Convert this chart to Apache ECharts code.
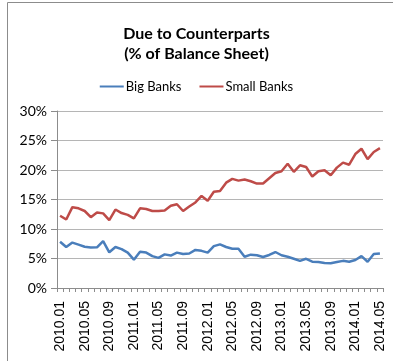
<!DOCTYPE html>
<html>
<head>
<meta charset="utf-8">
<script src="https://cdn.jsdelivr.net/npm/echarts@6/dist/echarts.min.js"></script>
<style>
html, body { margin: 0; padding: 0; background: #fff; }
#chart { width: 393px; height: 361px; }
</style>
</head>
<body>
<div id="chart"></div>
<script>
// Monthly observations, 2010.01 – 2014.05
const months = [];
for (let y = 2010; y <= 2014; y++) {
  for (let m = 1; m <= 12; m++) {
    if (y === 2014 && m > 5) break;
    months.push(y + '.' + (m < 10 ? '0' + m : m));
  }
}

// Due to counterparts, % of balance sheet
const bigBanks = [
  7.85, 6.95, 7.7, 7.35, 7.0, 6.85, 6.9, 7.95, 6.05, 6.95, 6.6, 6.0,
  4.8, 6.15, 6.0, 5.4, 5.1, 5.7, 5.5, 6.0, 5.75, 5.85, 6.45, 6.3,
  6.0, 7.1, 7.4, 6.95, 6.65, 6.65, 5.3, 5.65, 5.55, 5.25, 5.6, 6.1,
  5.55, 5.3, 4.95, 4.6, 4.95, 4.45, 4.4, 4.25, 4.2, 4.4, 4.6, 4.45,
  4.75, 5.4, 4.45, 5.75, 5.85
];
const smallBanks = [
  12.25, 11.6, 13.7, 13.5, 13.05, 12.0, 12.8, 12.65, 11.5, 13.3, 12.7, 12.4,
  11.8, 13.5, 13.4, 13.05, 13.05, 13.15, 13.95, 14.2, 13.05, 13.8, 14.5, 15.6,
  14.8, 16.3, 16.45, 17.85, 18.5, 18.2, 18.4, 18.1, 17.7, 17.7, 18.6, 19.5,
  19.8, 21.05, 19.7, 20.8, 20.5, 18.9, 19.8, 19.95, 19.1, 20.4, 21.25, 20.9,
  22.7, 23.6, 21.85, 23.05, 23.7
];

const yTicks = [0, 5, 10, 15, 20, 25, 30];

const chart = echarts.init(document.getElementById('chart'), null, { renderer: 'canvas' });

chart.setOption({
  animation: false,
  backgroundColor: '#ffffff',
  title: {
    text: 'Due to Counterparts\n(% of Balance Sheet)',
    left: 'center',
    top: 19,
    padding: [5, 5, 5, 17],
    textStyle: {
      fontFamily: 'Lato',
      fontWeight: 'bold',
      fontSize: 16,
      lineHeight: 20,
      color: '#000'
    }
  },
  legend: {
    top: 75,
    left: 'center',
    padding: [5, 5, 5, 17],
    itemWidth: 24,
    itemHeight: 2,
    itemGap: 18,
    icon: 'rect',
    textStyle: { fontFamily: 'Lato', fontSize: 13, color: '#000', padding: [0, 0, 0, -3] },
    data: ['Big Banks', 'Small Banks']
  },
  graphic: [{
    type: 'rect',
    shape: { x: 7.5, y: 2.5, width: 400, height: 400 },
    style: { fill: 'none', stroke: '#8c8c8c', lineWidth: 1 },
    silent: true
  }],
  grid: { left: 57, right: 10, top: 111, bottom: 73, containLabel: false },
  xAxis: {
    type: 'category',
    data: months,
    boundaryGap: true,
    axisLine: { lineStyle: { color: '#8c8c8c', width: 1 } },
    axisTick: { show: true, interval: 0, length: 4, lineStyle: { color: '#8c8c8c' } },
    axisLabel: {
      interval: 3,
      rotate: 90,
      margin: 13,
      fontFamily: 'Liberation Sans',
      fontSize: 14,
      color: '#000'
    },
    splitLine: { show: false }
  },
  yAxis: {
    type: 'value',
    min: yTicks[0],
    max: yTicks[yTicks.length - 1],
    interval: 5,
    axisLine: { show: true, lineStyle: { color: '#8c8c8c', width: 1 } },
    axisTick: { show: true, length: 6, lineStyle: { color: '#8c8c8c' } },
    axisLabel: {
      formatter: v => v + '%',
      margin: 10,
      fontFamily: 'Lato',
      fontSize: 14,
      color: '#000'
    },
    splitLine: { lineStyle: { color: '#b5b5b5', width: 1 } }
  },
  series: [
    {
      name: 'Big Banks',
      type: 'line',
      data: bigBanks,
      symbol: 'none',
      color: '#4a7ebb',
      lineStyle: { width: 2.5, color: '#4a7ebb' }
    },
    {
      name: 'Small Banks',
      type: 'line',
      data: smallBanks,
      symbol: 'none',
      color: '#be4b48',
      lineStyle: { width: 2.5, color: '#be4b48' }
    }
  ]
});
</script>
</body>
</html>
